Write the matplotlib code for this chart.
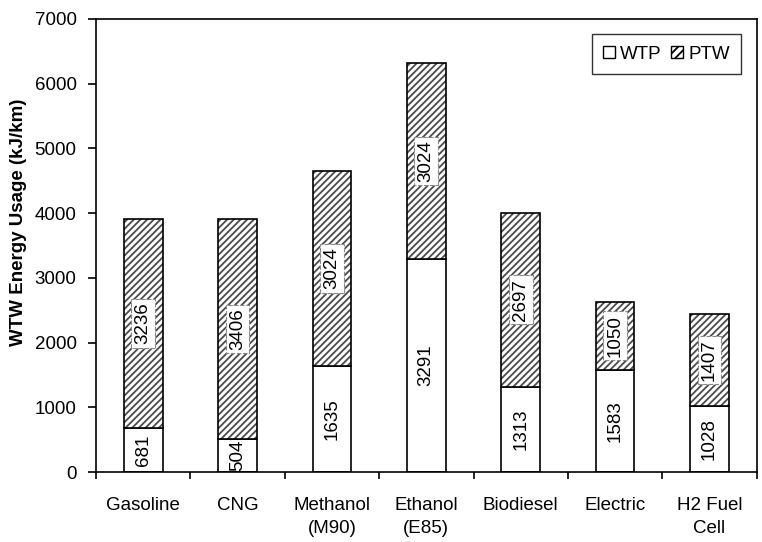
import matplotlib
matplotlib.use("Agg")
import matplotlib.pyplot as plt
import numpy as np
from matplotlib.patches import Patch

categories = ["Gasoline", "CNG", "Methanol\n(M90)", "Ethanol\n(E85)", "Biodiesel", "Electric", "H2 Fuel\nCell"]
wtp = [681, 504, 1635, 3291, 1313, 1583, 1028]
ptw = [3236, 3406, 3024, 3024, 2697, 1050, 1407]
yticks = [0, 1000, 2000, 3000, 4000, 5000, 6000, 7000]

plt.rcParams['font.family'] = ['Liberation Sans', 'DejaVu Sans']
plt.rcParams['hatch.linewidth'] = 1.3
FS = 13.5

fig = plt.figure(figsize=(7.62, 5.42), dpi=100)
ax = fig.add_axes([0.126, 0.129, 0.867, 0.836])

x = np.arange(len(categories))
w = 0.41
wtp_a = np.array(wtp)
ptw_a = np.array(ptw)

ax.bar(x, wtp_a, w, color='white', edgecolor='black', linewidth=1.2, zorder=2)
ax.bar(x, ptw_a, w, bottom=wtp_a, color='white', edgecolor='#4a4a4a', hatch='/////', linewidth=0, zorder=2)
ax.bar(x, ptw_a, w, bottom=wtp_a, fill=False, edgecolor='black', linewidth=1.2, zorder=3)

box = dict(boxstyle='square,pad=0.18', fc='white', ec='#888888', lw=0.8, ls='--')
for i in range(len(x)):
    ax.text(x[i], wtp_a[i] / 2, str(wtp[i]), rotation=90, ha='center', va='center',
            fontsize=FS, zorder=4)
    ax.text(x[i], wtp_a[i] + ptw_a[i] / 2, str(ptw[i]), rotation=90, ha='center', va='center',
            fontsize=FS, bbox=box, zorder=4)

ax.set_xlim(-0.5, len(categories) - 0.5)
ax.set_ylim(0, 7000)
ax.set_yticks(yticks)
ax.set_yticklabels([str(v) for v in yticks], fontsize=FS)
ax.set_xticks(x)
ax.set_xticklabels(categories, fontsize=FS, linespacing=1.45)
ax.tick_params(axis='x', which='major', length=0, pad=18)
ax.set_xticks(np.arange(len(categories) + 1) - 0.5, minor=True)
ax.tick_params(axis='x', which='minor', length=5, width=1.2, direction='out')
ax.tick_params(axis='y', length=6, width=1.2, direction='out', pad=8)

for s in ax.spines.values():
    s.set_linewidth(1.2)
    s.set_color('black')

ax.set_ylabel("WTW Energy Usage (kJ/km)", fontsize=FS, fontweight='bold')
ax.yaxis.set_label_coords(-0.104, 0.552)

handles = [Patch(facecolor='white', edgecolor='black', linewidth=1.0, label='WTP'),
           Patch(facecolor='white', edgecolor='black', hatch='////', linewidth=1.0, label='PTW')]
leg = ax.legend(handles=handles, loc='upper right', ncol=2, fontsize=FS, frameon=True,
                fancybox=False, edgecolor='black', handlelength=0.6, handleheight=0.6,
                handletextpad=0.3, columnspacing=0.5, borderpad=0.62, borderaxespad=0,
                bbox_to_anchor=(0.977, 0.967))
leg.get_frame().set_linewidth(1.0)

fig.savefig("out.png", dpi=100)
